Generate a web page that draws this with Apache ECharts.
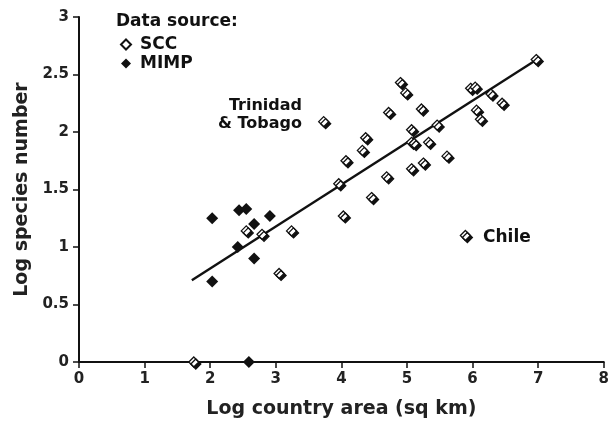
<!DOCTYPE html>
<html>
<head>
<meta charset="utf-8">
<script src="https://cdn.jsdelivr.net/npm/echarts@6/dist/echarts.min.js"></script>
<style>
html,body{margin:0;padding:0;background:#fff;}
#chart{width:612px;height:429px;}
</style>
</head>
<body>
<div id="chart"></div>
<script>
// Data source SCC (open diamonds)
var sccX = [1.75, 2.55, 2.79, 3.05, 3.24, 3.73, 3.96, 4.03, 4.07, 4.32, 4.37, 4.46, 4.69, 4.72, 4.90, 4.98, 5.07, 5.07, 5.11, 5.07, 5.22, 5.25, 5.33, 5.46, 5.61, 5.97, 6.04, 6.06, 6.12, 6.28, 6.45, 5.89, 6.97];
var sccY = [0.00, 1.14, 1.11, 0.77, 1.14, 2.09, 1.55, 1.27, 1.75, 1.84, 1.95, 1.43, 1.61, 2.17, 2.43, 2.34, 2.02, 1.91, 1.90, 1.68, 2.20, 1.73, 1.91, 2.06, 1.79, 2.38, 2.39, 2.19, 2.11, 2.33, 2.25, 1.10, 2.63];
// Data source MIMP (filled diamonds)
var mimpX = [2.03, 2.44, 2.55, 2.67, 2.91, 2.42, 2.67, 2.03, 2.59];
var mimpY = [1.25, 1.32, 1.33, 1.20, 1.27, 1.00, 0.90, 0.70, 0.00];
// Regression line end points
var fitX = [1.72, 6.95];
var fitY = [0.71, 2.62];
// Annotated countries (index into SCC arrays)
var labelNames = {5: 'Trinidad\n& Tobago', 31: 'Chile'};
var xTicks = [0, 1, 2, 3, 4, 5, 6, 7, 8];
var yTicks = [0, 0.5, 1, 1.5, 2, 2.5, 3];

var FONT = 'DejaVu Sans';

var sccData = sccX.map(function (x, i) {
  var d = {value: [x, sccY[i]]};
  if (labelNames[i]) {
    var isTT = i === 5;
    d.label = {
      show: true,
      formatter: labelNames[i],
      position: isTT ? 'left' : 'right',
      distance: isTT ? 16 : 12,
      offset: isTT ? [0, -7] : [0, 2],
      color: '#111',
      fontFamily: FONT,
      fontWeight: 'bold',
      fontSize: isTT ? 16 : 17,
      lineHeight: 18
    };
  }
  return d;
});
var mimpData = mimpX.map(function (x, i) { return [x, mimpY[i]]; });
var fitData = fitX.map(function (x, i) { return [x, fitY[i]]; });

var chart = echarts.init(document.getElementById('chart'));
chart.setOption({
  animation: false,
  backgroundColor: '#fff',
  title: {
    text: 'Data source:',
    left: 111, top: 8,
    textStyle: {fontFamily: FONT, fontWeight: 'bold', fontSize: 17, color: '#111'}
  },
  legend: {
    orient: 'vertical',
    left: 115, top: 31,
    itemGap: 2,
    itemWidth: 10, itemHeight: 10,
    data: ['SCC', 'MIMP'],
    textStyle: {fontFamily: FONT, fontWeight: 'bold', fontSize: 17, color: '#111', padding: [0, 0, 0, 4]}
  },
  grid: {left: 79, right: 6, top: 17, bottom: 67, containLabel: false},
  xAxis: {
    type: 'value', min: 0, max: 8, interval: 1,
    name: 'Log country area (sq km)',
    nameLocation: 'middle', nameGap: 38,
    nameTextStyle: {fontFamily: FONT, fontWeight: 'bold', fontSize: 19, color: '#222'},
    axisLine: {onZero: false, lineStyle: {color: '#111', width: 2}},
    axisTick: {show: true, length: 6, lineStyle: {color: '#111', width: 1.5}},
    axisLabel: {margin: 10, fontFamily: FONT, fontWeight: 'bold', fontSize: 15, color: '#222',
      formatter: function (v) { return xTicks.indexOf(v) >= 0 ? String(v) : ''; }},
    splitLine: {show: false}
  },
  yAxis: {
    type: 'value', min: 0, max: 3, interval: 0.5,
    name: 'Log species number',
    nameLocation: 'middle', nameGap: 40, nameRotate: 90,
    nameTextStyle: {fontFamily: FONT, fontWeight: 'bold', fontSize: 19, color: '#222'},
    axisLine: {show: true, onZero: false, lineStyle: {color: '#111', width: 2}},
    axisTick: {show: true, length: 6, lineStyle: {color: '#111', width: 1.5}},
    axisLabel: {margin: 10, fontFamily: FONT, fontWeight: 'bold', fontSize: 15, color: '#222',
      formatter: function (v) { return yTicks.indexOf(v) >= 0 ? String(v) : ''; }},
    splitLine: {show: false}
  },
  series: [
    {
      name: 'fit', type: 'line', data: fitData, symbol: 'none', silent: true,
      lineStyle: {color: '#111', width: 2.4}, z: 1
    },
    {
      name: 'SCC', type: 'scatter', symbol: 'diamond', symbolSize: 10,
      data: sccData,
      itemStyle: {color: '#fff', borderColor: '#111', borderWidth: 1.3,
        shadowColor: '#111', shadowBlur: 0, shadowOffsetX: 2, shadowOffsetY: 2, opacity: 1},
      z: 3
    },
    {
      name: 'MIMP', type: 'scatter', symbol: 'diamond', symbolSize: 12,
      data: mimpData,
      itemStyle: {color: '#111', borderColor: '#111', borderWidth: 0, opacity: 1},
      z: 3
    }
  ]
});
</script>
</body>
</html>
